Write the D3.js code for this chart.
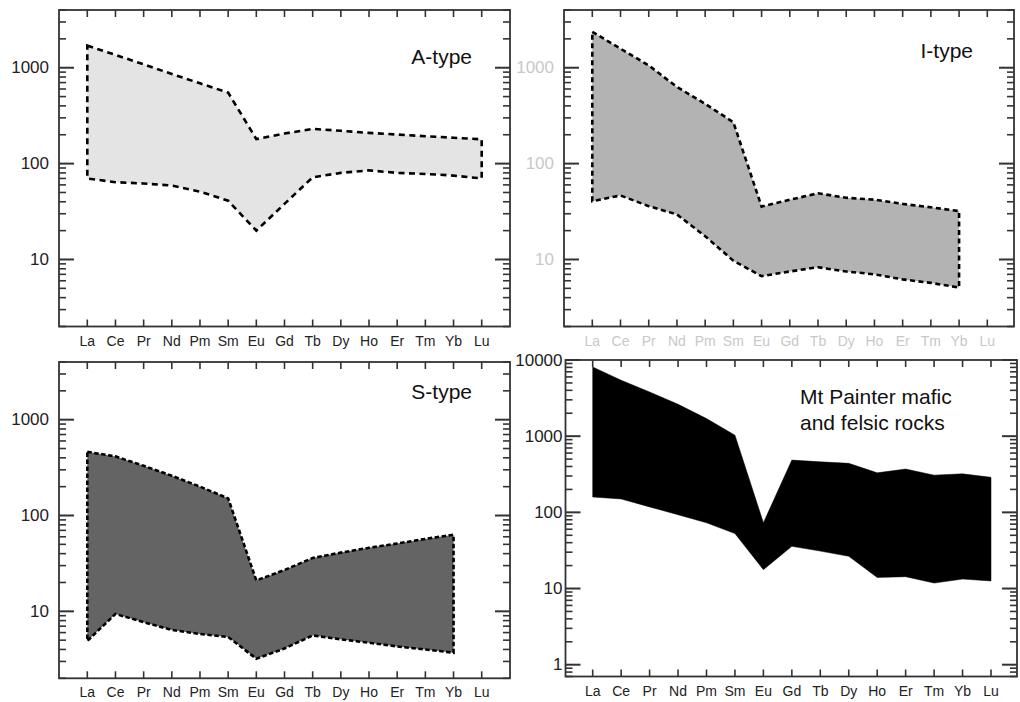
<!DOCTYPE html>
<html>
<head>
<meta charset="utf-8">
<script src="https://cdn.jsdelivr.net/npm/d3@7"></script>
<style>
  html, body { margin: 0; padding: 0; background: #fff; }
  svg { display: block; font-family: "Liberation Sans", Arial, sans-serif; }
</style>
</head>
<body>
<svg id="chart" width="1020" height="702"></svg>
<script>
// ---- data ----
const elements = ["La","Ce","Pr","Nd","Pm","Sm","Eu","Gd","Tb","Dy","Ho","Er","Tm","Yb","Lu"];

const aTypeUpper = [1700, 1360, 1085, 860, 687, 550, 180, 206, 230, 220, 209, 201, 193, 186, 179];
const aTypeLower = [70, 64, 62, 59, 51, 41, 20, 38, 72, 80, 85, 80, 78, 75, 70];

const iTypeUpper = [2370, 1580, 1057, 630, 420, 270, 35.6, 42, 49, 44, 42, 38, 35, 32];
const iTypeLower = [40.6, 46.5, 36, 29.5, 17.5, 9.7, 6.7, 7.5, 8.3, 7.5, 7.0, 6.2, 5.7, 5.1];

const sTypeUpper = [462, 414, 330, 260, 200, 151, 21, 27, 36, 41, 46, 51, 57, 63];
const sTypeLower = [4.9, 9.4, 7.7, 6.4, 5.8, 5.4, 3.2, 4.1, 5.6, 5.1, 4.7, 4.3, 4.0, 3.7];

const mtUpper = [8090, 5420, 3800, 2625, 1700, 1030, 73, 485, 460, 440, 330, 370, 308, 320, 288];
const mtLower = [159, 150, 118, 93, 73, 52.6, 17.7, 35.8, 31, 26.5, 14.0, 14.3, 11.8, 13.3, 12.6];

const tickLabelsGranite = [10, 100, 1000];
const tickLabelsMt = [1, 10, 100, 1000, 10000];

const titleA = ["A-type"];
const titleI = ["I-type"];
const titleS = ["S-type"];
const titleMt = ["Mt Painter mafic", "and felsic rocks"];

// ---- layout ----
const svg = d3.select("#chart");

const panels = [
  { frame: [59, 510, 10, 326.5], xr: [87.3, 481.7], dom: [2, 4000], up: aTypeUpper, lo: aTypeLower,
    fill: "#e4e4e4", dash: "6,4.5", labels: tickLabelsGranite, labelColor: "#222",
    title: titleA, tx: 472, ty: 64, anchor: "end" },
  { frame: [564, 1014, 10, 326.5], xr: [592.3, 987.3], dom: [2, 4000], up: iTypeUpper, lo: iTypeLower,
    fill: "#b3b3b3", dash: "5,3.5", labels: tickLabelsGranite, labelColor: "#c8c8c8",
    title: titleI, tx: 973, ty: 58, anchor: "end" },
  { frame: [59, 510, 362, 678.3], xr: [87.3, 481.7], dom: [2, 4000], up: sTypeUpper, lo: sTypeLower,
    fill: "#646464", dash: "4.5,2.5", labels: tickLabelsGranite, labelColor: "#222",
    title: titleS, tx: 472, ty: 399, anchor: "end" },
  { frame: [565.5, 1017, 360, 676.5], xr: [592.7, 991], dom: [0.7, 10000], up: mtUpper, lo: mtLower,
    fill: "#000", dash: null, labels: tickLabelsMt, labelColor: "#222",
    title: titleMt, tx: 800, ty: 404, anchor: "start", labelGap: 3 }
];

panels.forEach(p => drawPanel(p));

function drawPanel(p) {
  const [x0, x1, y0, y1] = p.frame;
  const x = d3.scalePoint().domain(elements).range(p.xr);
  const y = d3.scaleLog().domain(p.dom).range([y1, y0]);
  const g = svg.append("g");

  // filled envelope (upper along, lower back), closed polygon
  const n = p.up.length;
  const pts = [];
  for (let i = 0; i < n; i++) pts.push([elements[i], p.up[i]]);
  for (let i = n - 1; i >= 0; i--) pts.push([elements[i], p.lo[i]]);
  const line = d3.line().x(d => x(d[0])).y(d => y(d[1]));
  const path = g.append("path")
    .attr("d", line(pts) + "Z")
    .attr("fill", p.fill);
  if (p.dash) {
    path.attr("stroke", "#000")
      .attr("stroke-width", 2.6)
      .attr("stroke-dasharray", p.dash)
      .attr("stroke-linejoin", "miter");
  } else {
    path.attr("stroke", "#000").attr("stroke-width", 0.5);
  }

  // tick values (major decades + minor 2..9)
  const [lo, hi] = p.dom;
  const ticks = [];
  for (let e = Math.floor(Math.log10(lo)); e <= Math.ceil(Math.log10(hi)); e++) {
    for (let m = 1; m <= 9; m++) {
      const v = m * Math.pow(10, e);
      if (v >= lo * 0.999 && v <= hi * 1.001) ticks.push({ v, major: m === 1 });
    }
  }
  const tickColor = "#333";
  ticks.forEach(t => {
    const len = t.major ? 15 : 7;
    const yy = y(t.v);
    g.append("line").attr("x1", x0).attr("x2", x0 + len).attr("y1", yy).attr("y2", yy)
      .attr("stroke", tickColor).attr("stroke-width", t.major ? 2 : 1.6);
    g.append("line").attr("x1", x1).attr("x2", x1 - len).attr("y1", yy).attr("y2", yy)
      .attr("stroke", tickColor).attr("stroke-width", t.major ? 2 : 1.6);
  });
  elements.forEach(el => {
    const xx = x(el);
    g.append("line").attr("x1", xx).attr("x2", xx).attr("y1", y1).attr("y2", y1 - 7)
      .attr("stroke", tickColor).attr("stroke-width", 1.6);
    g.append("line").attr("x1", xx).attr("x2", xx).attr("y1", y0).attr("y2", y0 + 7)
      .attr("stroke", tickColor).attr("stroke-width", 1.6);
  });

  // frame
  g.append("rect").attr("x", x0).attr("y", y0).attr("width", x1 - x0).attr("height", y1 - y0)
    .attr("fill", "none").attr("stroke", "#333").attr("stroke-width", 1.8);

  // y tick labels
  const gap = p.labelGap !== undefined ? p.labelGap : 10;
  p.labels.forEach(v => {
    g.append("text").attr("x", x0 - gap).attr("y", y(v))
      .attr("text-anchor", "end").attr("dominant-baseline", "central")
      .attr("font-size", 17).attr("fill", p.labelColor)
      .text(d3.format("d")(v));
  });

  // x tick labels
  elements.forEach(el => {
    g.append("text").attr("x", x(el)).attr("y", y1 + 19)
      .attr("text-anchor", "middle")
      .attr("font-size", 14).attr("fill", p.labelColor)
      .text(el);
  });

  // title
  p.title.forEach((t, i) => {
    g.append("text").attr("x", p.tx).attr("y", p.ty + i * 25.5)
      .attr("text-anchor", p.anchor)
      .attr("font-size", 21).attr("fill", "#111")
      .text(t);
  });
}
</script>
</body>
</html>
